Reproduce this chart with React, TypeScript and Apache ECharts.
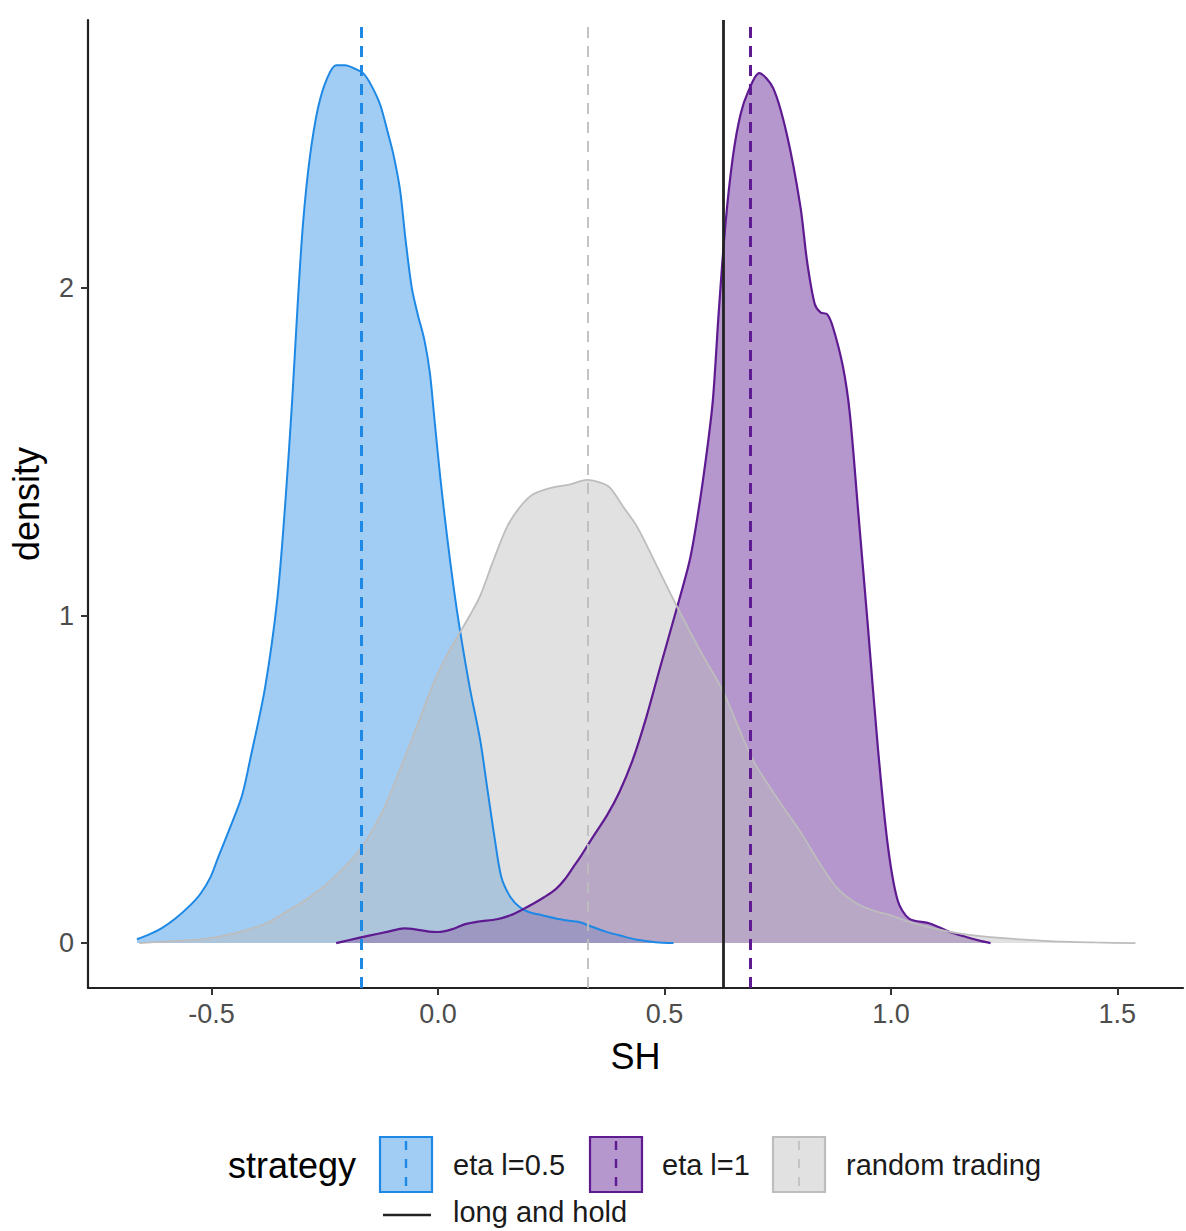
import React, { useEffect, useRef } from "react";
import * as echarts from "echarts";

// Kernel density estimates of the Sharpe ratio (SH) per strategy: [SH, density]
const etaHalfX = [-0.665, -0.64, -0.61, -0.58, -0.547, -0.525, -0.503, -0.486, -0.46, -0.433, -0.415, -0.382, -0.355, -0.337, -0.322, -0.31, -0.298, -0.283, -0.265, -0.245, -0.225, -0.205, -0.185, -0.165, -0.148, -0.128, -0.112, -0.099, -0.084, -0.072, -0.058, -0.045, -0.03, -0.018, -0.008, 0.005, 0.02, 0.035, 0.049, 0.07, 0.093, 0.11, 0.125, 0.14, 0.16, 0.18, 0.2, 0.23, 0.26, 0.29, 0.315, 0.34, 0.37, 0.4, 0.44, 0.48, 0.52];
const etaHalfY = [0.012, 0.025, 0.046, 0.075, 0.116, 0.15, 0.2, 0.26, 0.35, 0.45, 0.56, 0.78, 1.05, 1.35, 1.66, 1.95, 2.2, 2.4, 2.55, 2.64, 2.68, 2.68, 2.67, 2.655, 2.62, 2.56, 2.48, 2.41, 2.3, 2.15, 2.0, 1.92, 1.84, 1.74, 1.6, 1.42, 1.24, 1.08, 0.95, 0.78, 0.62, 0.46, 0.32, 0.2, 0.14, 0.11, 0.095, 0.085, 0.075, 0.068, 0.063, 0.05, 0.035, 0.024, 0.01, 0.003, 0.0];

const etaOneX = [-0.225, -0.2, -0.155, -0.11, -0.075, -0.05, -0.02, 0.0, 0.03, 0.06, 0.09, 0.13, 0.16, 0.183, 0.21, 0.234, 0.26, 0.28, 0.3, 0.315, 0.34, 0.373, 0.4, 0.43, 0.46, 0.49, 0.528, 0.556, 0.575, 0.594, 0.607, 0.62, 0.635, 0.651, 0.668, 0.685, 0.709, 0.74, 0.77, 0.8, 0.815, 0.832, 0.845, 0.859, 0.872, 0.894, 0.909, 0.927, 0.949, 0.971, 0.993, 1.015, 1.04, 1.086, 1.13, 1.168, 1.2, 1.22];
const etaOneY = [0.0, 0.008, 0.022, 0.035, 0.045, 0.042, 0.035, 0.034, 0.042, 0.058, 0.066, 0.073, 0.085, 0.1, 0.12, 0.14, 0.165, 0.195, 0.235, 0.265, 0.32, 0.39, 0.46, 0.56, 0.69, 0.84, 1.026, 1.17, 1.32, 1.505, 1.66, 1.93, 2.2, 2.4, 2.53, 2.6, 2.656, 2.61, 2.47, 2.25, 2.08, 1.95, 1.925, 1.92, 1.88, 1.76, 1.62, 1.33, 0.97, 0.6, 0.3, 0.13, 0.075, 0.06, 0.034, 0.018, 0.006, 0.0];

const randomX = [-0.66, -0.6, -0.52, -0.45, -0.38, -0.33, -0.29, -0.23, -0.17, -0.12, -0.084, -0.05, -0.011, 0.02, 0.049, 0.07, 0.093, 0.12, 0.152, 0.18, 0.21, 0.25, 0.29, 0.329, 0.36, 0.38, 0.41, 0.44, 0.48, 0.528, 0.58, 0.629, 0.66, 0.695, 0.75, 0.8, 0.84, 0.88, 0.92, 0.96, 1.0, 1.04, 1.08, 1.15, 1.25, 1.35, 1.45, 1.54];
const randomY = [0.0, 0.005, 0.012, 0.03, 0.06, 0.1, 0.134, 0.2, 0.29, 0.41, 0.53, 0.65, 0.79, 0.88, 0.95, 1.0, 1.06, 1.16, 1.27, 1.33, 1.37, 1.39, 1.4, 1.414, 1.405, 1.39, 1.33, 1.27, 1.16, 1.026, 0.89, 0.77, 0.67, 0.56, 0.44, 0.34, 0.25, 0.17, 0.125, 0.1, 0.085, 0.065, 0.05, 0.03, 0.015, 0.006, 0.002, 0.0];

// Reference lines: strategy means and the long-and-hold benchmark
const etaHalfMean = -0.167;
const etaOneMean = 0.689;
const randomMean = 0.327;
const longHold = 0.629;

const xTicks = [-0.5, 0, 0.5, 1, 1.5];
const yTicks = [0, 1, 2];

const legendTitle = "strategy";
const legendNames = ["eta l=0.5", "eta l=1", "random trading"];
const benchmarkName = "long and hold";

const BLUE = "#1E88E5";
const PURPLE = "#5E1A91";
const GREY = "#BDBDBD";
const FONT = "Liberation Sans, Arial, sans-serif";

const zip = (xs: number[], ys: number[]) => xs.map((x, i) => [x, ys[i]]);

export default function App() {
  const ref = useRef<HTMLDivElement>(null);

  useEffect(() => {
    if (!ref.current) return;
    const chart = echarts.init(ref.current, undefined, { renderer: "svg" });

    const density = (name: string, xs: number[], ys: number[], color: string, alpha: number, width: number) => ({
      name,
      type: "line",
      data: zip(xs, ys),
      smooth: 0.3,
      showSymbol: false,
      symbol: "none",
      lineStyle: { color, width },
      areaStyle: { color, opacity: alpha, origin: 0 },
      silent: true,
    });

    const vline = (x: number, color: string, width: number, dash: any) => ({
      xAxis: x,
      lineStyle: { color, width, type: dash },
    });

    const keyItem = (x: number, color: string, alpha: number, dashW: number) => [
      {
        type: "rect",
        shape: { x, y: 1137, width: 52, height: 55 },
        style: { fill: echarts.color.modifyAlpha(color, alpha), stroke: color, lineWidth: 2.2 },
      },
      {
        type: "line",
        shape: { x1: x + 26, y1: 1141, x2: x + 26, y2: 1188 },
        style: { stroke: color, lineWidth: dashW, lineDash: [9, 9] },
      },
    ];

    const legendTextStyle = { fontFamily: FONT, fontSize: 29, fill: "#1a1a1a" };

    chart.setOption({
      animation: false,
      backgroundColor: "#ffffff",
      grid: { left: 88, right: 3, top: 20, bottom: 243 },
      xAxis: {
        type: "value",
        min: -0.773,
        max: 1.645,
        name: "SH",
        nameLocation: "middle",
        nameGap: 50,
        nameTextStyle: { fontFamily: FONT, fontSize: 36, color: "#000" },
        axisLine: { show: true, onZero: false, lineStyle: { color: "#222", width: 2.2 } },
        axisTick: { show: true, length: 7, customValues: xTicks, lineStyle: { color: "#333", width: 2 } },
        axisLabel: {
          customValues: xTicks,
          margin: 12,
          fontFamily: FONT,
          fontSize: 27,
          color: "#4D4D4D",
          formatter: (v: number) => v.toFixed(1),
        },
        splitLine: { show: false },
      },
      yAxis: {
        type: "value",
        min: -0.137,
        max: 2.818,
        name: "density",
        nameLocation: "middle",
        nameGap: 44,
        nameRotate: 90,
        nameTextStyle: { fontFamily: FONT, fontSize: 36, color: "#000" },
        axisLine: { show: true, onZero: false, lineStyle: { color: "#222", width: 2.2 } },
        axisTick: { show: true, length: 7, customValues: yTicks, lineStyle: { color: "#333", width: 2 } },
        axisLabel: {
          customValues: yTicks,
          margin: 14,
          fontFamily: FONT,
          fontSize: 27,
          color: "#4D4D4D",
          formatter: (v: number) => String(v),
        },
        splitLine: { show: false },
      },
      series: [
        density(legendNames[0], etaHalfX, etaHalfY, BLUE, 0.42, 2),
        density(legendNames[1], etaOneX, etaOneY, PURPLE, 0.46, 2.2),
        density(legendNames[2], randomX, randomY, GREY, 0.45, 1.8),
        {
          name: "means",
          type: "line",
          data: [],
          z: 5,
          markLine: {
            silent: true,
            symbol: ["none", "none"],
            label: { show: false },
            animation: false,
            data: [
              vline(randomMean, GREY, 1.8, [11, 8]),
              vline(etaHalfMean, BLUE, 3, [11, 8]),
              vline(etaOneMean, PURPLE, 3, [11, 8]),
              vline(longHold, "#222", 2.8, "solid"),
            ],
          },
        },
      ],
      graphic: [
        {
          type: "text",
          x: 228,
          y: 1165,
          style: { text: legendTitle, fontFamily: FONT, fontSize: 36, fill: "#000", verticalAlign: "middle" },
        },
        ...keyItem(380, BLUE, 0.42, 2.4),
        { type: "text", x: 453, y: 1165, style: { ...legendTextStyle, text: legendNames[0], verticalAlign: "middle" } },
        ...keyItem(590, PURPLE, 0.46, 2.4),
        { type: "text", x: 662, y: 1165, style: { ...legendTextStyle, text: legendNames[1], verticalAlign: "middle" } },
        ...keyItem(773, GREY, 0.45, 1.6),
        { type: "text", x: 846, y: 1165, style: { ...legendTextStyle, text: legendNames[2], verticalAlign: "middle" } },
        {
          type: "line",
          shape: { x1: 383, y1: 1215, x2: 431, y2: 1215 },
          style: { stroke: "#222", lineWidth: 2.4 },
        },
        { type: "text", x: 453, y: 1212, style: { ...legendTextStyle, text: benchmarkName, verticalAlign: "middle" } },
      ],
    });

    return () => chart.dispose();
  }, []);

  return (
    <div
      ref={ref}
      style={{ position: "absolute", left: 0, top: 0, width: 1186, height: 1231 }}
    />
  );
}
